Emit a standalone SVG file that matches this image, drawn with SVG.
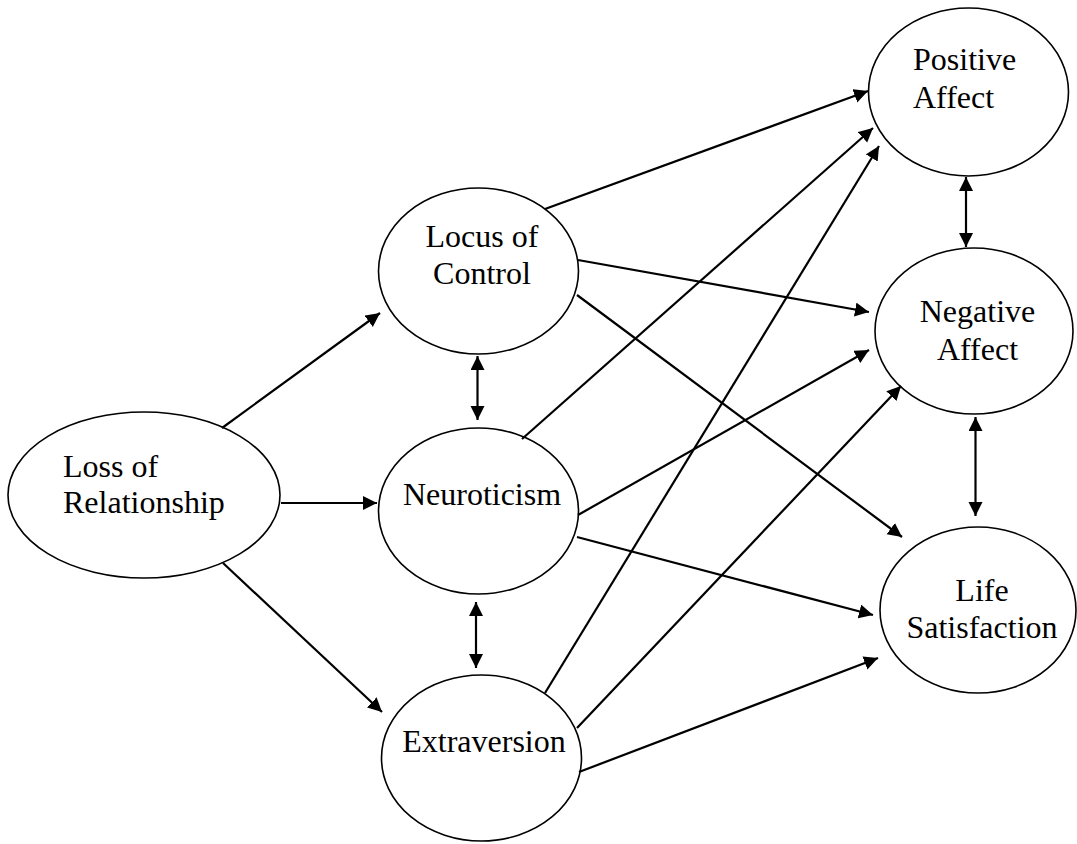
<svg xmlns="http://www.w3.org/2000/svg" width="1077" height="844" viewBox="0 0 1077 844">
<style>
.node ellipse{fill:#fff;stroke:#000;stroke-width:1.6}
.node text{font-family:"Liberation Serif","Times New Roman",serif;font-size:32px;fill:#000}
.c line{stroke:#000;stroke-width:2.2;fill:none}
.c .a{marker-end:url(#ah)}
.c .d{marker-end:url(#ah);marker-start:url(#ahs)}
</style>
<defs>
<marker id="ah" markerUnits="userSpaceOnUse" markerWidth="15" markerHeight="15" refX="14" refY="7" orient="auto"><path d="M0,0 L14,7 L0,14 z" fill="#000"/></marker>
<marker id="ahs" markerUnits="userSpaceOnUse" markerWidth="15" markerHeight="15" refX="14" refY="7" orient="auto-start-reverse"><path d="M0,0 L14,7 L0,14 z" fill="#000"/></marker>
</defs>
<rect width="1077" height="844" fill="#fff"/>
<g id="loss" class="node"><ellipse cx="144" cy="495" rx="136" ry="83"/><text x="63" y="477">Loss of</text><text x="63" y="513">Relationship</text></g>
<g id="locus" class="node"><ellipse cx="478.5" cy="271" rx="100" ry="83"/><text x="482" y="247" text-anchor="middle">Locus of</text><text x="482" y="284" text-anchor="middle">Control</text></g>
<g id="neuro" class="node"><ellipse cx="478.5" cy="511" rx="100" ry="83"/><text x="482" y="505" text-anchor="middle">Neuroticism</text></g>
<g id="extra" class="node"><ellipse cx="481.5" cy="758" rx="100" ry="83"/><text x="484" y="752" text-anchor="middle">Extraversion</text></g>
<g id="pos" class="node"><ellipse cx="968.5" cy="92" rx="100" ry="84"/><text x="913" y="70">Positive</text><text x="913" y="108">Affect</text></g>
<g id="neg" class="node"><ellipse cx="974" cy="331" rx="99" ry="83"/><text x="977.5" y="322" text-anchor="middle">Negative</text><text x="977.5" y="360" text-anchor="middle">Affect</text></g>
<g id="life" class="node"><ellipse cx="978" cy="610" rx="98" ry="83"/><text x="982" y="601" text-anchor="middle">Life</text><text x="982" y="638" text-anchor="middle">Satisfaction</text></g>
<g id="connectors" class="c">
<line class="a" x1="222" y1="428" x2="380" y2="313"/>
<line class="a" x1="281" y1="503" x2="377" y2="503"/>
<line class="a" x1="223" y1="563" x2="382" y2="712"/>
<line class="d" x1="477.5" y1="356" x2="477.5" y2="420"/>
<line class="d" x1="476" y1="602" x2="476" y2="668"/>
<line class="d" x1="966" y1="177" x2="966" y2="247"/>
<line class="d" x1="975.5" y1="417" x2="975.5" y2="516"/>
<line class="a" x1="545" y1="209" x2="868" y2="91"/>
<line class="a" x1="578" y1="260" x2="869" y2="312"/>
<line class="a" x1="577" y1="295" x2="902" y2="537"/>
<line class="a" x1="522" y1="439" x2="873" y2="128"/>
<line class="a" x1="578" y1="515" x2="869" y2="350"/>
<line class="a" x1="577" y1="537" x2="873" y2="615"/>
<line class="a" x1="545" y1="693" x2="879" y2="146"/>
<line class="a" x1="577" y1="728" x2="901" y2="386"/>
<line class="a" x1="579" y1="772" x2="878" y2="658"/>
</g>
</svg>
